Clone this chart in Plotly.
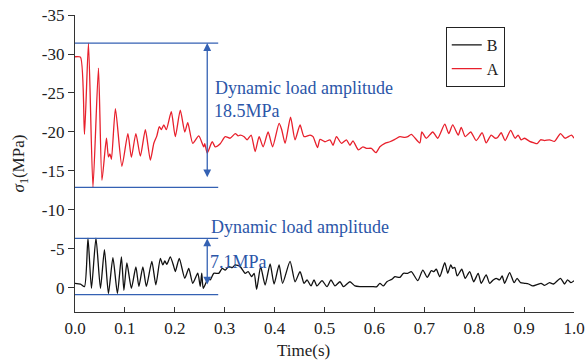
import plotly.graph_objects as go

# ---- data ----
time_A = [0.000, 0.011, 0.019, 0.027, 0.036, 0.047, 0.054, 0.063, 0.067, 0.070, 0.073, 0.081, 0.094,
          0.106, 0.113, 0.122, 0.131, 0.141, 0.151, 0.158, 0.164, 0.169, 0.173, 0.178, 0.183, 0.193,
          0.201, 0.211, 0.220, 0.226, 0.236, 0.248, 0.258, 0.260, 0.265, 0.275, 0.281, 0.291, 0.301,
          0.311, 0.321, 0.327, 0.331, 0.339, 0.345, 0.353, 0.361, 0.369, 0.377, 0.387, 0.396, 0.409,
          0.414, 0.421, 0.432, 0.441, 0.451, 0.459, 0.471, 0.477, 0.486, 0.491, 0.501, 0.511, 0.517,
          0.524, 0.534, 0.544, 0.551, 0.557, 0.568, 0.577, 0.584, 0.594, 0.603, 0.611, 0.621, 0.631,
          0.641, 0.651, 0.661, 0.667, 0.674, 0.691, 0.695, 0.704, 0.717, 0.727, 0.741, 0.749, 0.757,
          0.768, 0.774, 0.782, 0.793, 0.804, 0.816, 0.824, 0.834, 0.842, 0.847, 0.854, 0.862, 0.873,
          0.882, 0.888, 0.894, 0.901, 0.911, 0.920, 0.926, 0.933, 0.941, 0.951, 0.961, 0.973, 0.982,
          0.995, 1.000]
sigma_A = [-29.65, -29.6, -19.7, -31.4, -12.9, -28.2, -13.8, -19.2, -16.8, -17.2, -16.5, -23.0, -15.6,
           -19.8, -16.75, -19.8, -16.9, -20.3, -16.4, -18.55, -19.5, -20.7, -20.3, -20.9, -20.3, -22.6,
           -19.4, -22.8, -20.0, -21.2, -18.55, -19.5, -18.1, -18.5, -17.3, -18.75, -18.1, -18.5, -19.4,
           -19.2, -19.8, -19.5, -19.6, -19.4, -19.0, -19.6, -17.5, -19.4, -18.1, -20.0, -18.1, -21.1,
           -20.35, -18.55, -21.9, -19.0, -20.9, -19.4, -19.6, -19.4, -18.0, -19.05, -18.75, -19.0, -18.3,
           -19.4, -18.55, -19.0, -18.3, -18.85, -17.7, -18.1, -17.9, -17.9, -17.35, -18.1, -18.55, -18.75,
           -19.05, -19.4, -19.3, -19.4, -19.7, -18.6, -20.0, -19.2, -20.0, -19.2, -21.0, -19.8, -20.9,
           -19.6, -20.6, -19.4, -20.0, -18.9, -19.9, -18.6, -19.6, -19.2, -19.3, -19.9, -18.9, -20.2,
           -19.2, -19.6, -19.0, -19.2, -18.8, -18.6, -18.5, -19.0, -18.9, -19.0, -18.8, -19.8, -19.2,
           -19.6, -19.2]

time_B = [0.000, 0.011, 0.019, 0.026, 0.033, 0.042, 0.051, 0.059, 0.067, 0.076, 0.085, 0.093, 0.098,
          0.104, 0.113, 0.122, 0.128, 0.136, 0.143, 0.154, 0.162, 0.171, 0.176, 0.180, 0.184, 0.191,
          0.198, 0.201, 0.209, 0.220, 0.228, 0.236, 0.246, 0.251, 0.254, 0.257, 0.267, 0.271, 0.278,
          0.288, 0.295, 0.301, 0.308, 0.315, 0.321, 0.331, 0.341, 0.347, 0.354, 0.359, 0.364, 0.372,
          0.381, 0.391, 0.399, 0.409, 0.416, 0.431, 0.441, 0.451, 0.459, 0.465, 0.473, 0.479, 0.485,
          0.495, 0.505, 0.513, 0.521, 0.531, 0.538, 0.551, 0.561, 0.571, 0.585, 0.595, 0.605, 0.611,
          0.618, 0.625, 0.635, 0.641, 0.651, 0.658, 0.667, 0.674, 0.687, 0.697, 0.706, 0.714, 0.719,
          0.724, 0.731, 0.741, 0.747, 0.753, 0.757, 0.761, 0.766, 0.775, 0.782, 0.791, 0.799, 0.808,
          0.814, 0.824, 0.831, 0.838, 0.844, 0.851, 0.856, 0.861, 0.871, 0.880, 0.886, 0.893, 0.901,
          0.909, 0.917, 0.927, 0.934, 0.941, 0.951, 0.959, 0.973, 0.981, 0.987, 0.994, 1.000]
sigma_B = [-0.6, -0.5, -0.17, -6.4, 0.04, -6.4, 0.04, -4.9, 0.7, -3.9, 0.7, -4.0, 0.3,
           -3.2, 0.04, -2.7, -0.2, -2.7, -0.2, -3.4, -0.4, -3.8, -2.95, -3.46, -3.03, -4.0,
           -2.74, -2.1, -3.8, -1.25, -2.5, -0.6, -1.9, -0.2, -1.9, 0.04, -1.24, -1.03, -1.88,
           -1.88, -2.5, -2.3, -2.74, -2.6, -2.95, -2.74, -1.88, -2.1, -1.45, -1.88, 0.17, -2.74,
           -0.38, -3.08, -0.51, -2.95, -0.6, -3.4, -0.8, -2.1, -0.6, -1.03, -0.26, -1.03, -0.26,
           -0.94, -0.17, -1.03, -0.26, -0.8, -0.17, -0.8, -0.26, -0.17, -0.17, -0.17, -0.17, -0.6,
           -0.26, -0.8, -1.12, -1.45, -1.35, -1.88, -1.88, -2.1, -0.94, -2.3, -1.37, -2.22, -2.1,
           -2.4, -1.45, -3.25, -1.88, -2.95, -2.52, -2.65, -1.54, -2.4, -1.24, -2.1, -0.8, -1.88,
           -0.6, -1.67, -0.6, -1.03, -1.24, -1.03, -1.54, -0.6, -1.97, -0.68, -1.24, -0.68, -0.6,
           -0.51, -0.26, -0.47, -0.6, -0.34, -0.68, -0.51, -1.24, -0.51, -1.03, -0.68, -0.94]

amp_A = [-31.4, -12.9]     # bounds of dynamic load amplitude, curve A
amp_B = [-6.35, 0.85]      # bounds of dynamic load amplitude, curve B
amp_labels = ["18.5MPa", "7.1MPa"]
y_ticks = [-35, -30, -25, -20, -15, -10, -5, 0]
y_tick_text = ["-35", "-30", "-25", "-20", "-15", "-10", "-5", "0"]
x_ticks = [0.0, 0.1, 0.2, 0.3, 0.4, 0.5, 0.6, 0.7, 0.8, 0.9, 1.0]
x_tick_text = ["0.0", "0.1", "0.2", "0.3", "0.4", "0.5", "0.6", "0.7", "0.8", "0.9", "1.0"]

SERIF = "Liberation Serif"
BLUE = "#3461b3"
TXT_BLUE = "#2b56a8"
AX = "#333333"
TXT = "#222222"

fig = go.Figure()
fig.add_trace(go.Scatter(x=time_B, y=sigma_B, mode="lines", name="B",
                         line=dict(color="#111111", width=1.3, shape="spline", smoothing=0.6)))
fig.add_trace(go.Scatter(x=time_A, y=sigma_A, mode="lines", name="A",
                         line=dict(color="#e8202c", width=1.3, shape="spline", smoothing=0.6)))

line_end = 0.287
arrow_x = 0.265
for lo_hi in (amp_A, amp_B):
    for v in lo_hi:
        fig.add_shape(type="line", xref="x", yref="y", x0=0, x1=line_end, y0=v, y1=v,
                      line=dict(color=BLUE, width=1.3))
    fig.add_annotation(x=arrow_x, y=lo_hi[0], ax=arrow_x, ay=lo_hi[1], axref="x", ayref="y",
                       xref="x", yref="y", text=" ", showarrow=True, arrowhead=2, arrowsize=1.2,
                       arrowwidth=1.3, arrowcolor=BLUE, arrowside="end+start", startarrowhead=2,
                       startarrowsize=1.2)

ann_font = dict(family=SERIF, size=18, color=TXT_BLUE)
fig.add_annotation(x=0.2766, y=-25.64, xref="x", yref="y", text="Dynamic load amplitude",
                   showarrow=False, xanchor="left", yanchor="middle", font=ann_font)
fig.add_annotation(x=0.2745, y=-22.69, xref="x", yref="y", text=amp_labels[0],
                   showarrow=False, xanchor="left", yanchor="middle", font=ann_font)
fig.add_annotation(x=0.2685, y=-7.82, xref="x", yref="y", text="Dynamic load amplitude",
                   showarrow=False, xanchor="left", yanchor="middle", font=ann_font)
fig.add_annotation(x=0.2665, y=-3.33, xref="x", yref="y", text=amp_labels[1],
                   showarrow=False, xanchor="left", yanchor="middle", font=ann_font)

fig.add_annotation(x=0.457, y=-0.128, xref="paper", yref="paper", text="Time(s)",
                   showarrow=False, xanchor="center", yanchor="middle",
                   font=dict(family=SERIF, size=17, color=TXT))

fig.update_layout(
    width=585, height=363,
    margin=dict(l=75, r=11, t=15, b=51, autoexpand=False),
    paper_bgcolor="white", plot_bgcolor="white",
    showlegend=True,
    legend=dict(x=0.743, y=0.96, xanchor="left", yanchor="top",
                bgcolor="white", bordercolor=TXT, borderwidth=1,
                font=dict(family=SERIF, size=16, color=TXT),
                tracegroupgap=0, itemwidth=30),
)
fig.update_xaxes(range=[0, 1.0], tickvals=x_ticks, ticktext=x_tick_text,
                 showgrid=False, zeroline=False, showline=True, linecolor=AX, linewidth=1.3,
                 ticks="inside", ticklen=5, tickwidth=1.2, tickcolor=AX, automargin=False,
                 tickfont=dict(family=SERIF, size=17, color=TXT))
fig.update_yaxes(range=[3.08, -35], tickvals=y_ticks, ticktext=y_tick_text,
                 showgrid=False, zeroline=False, showline=True, linecolor=AX, linewidth=1.3,
                 ticks="outside", ticklen=6, tickwidth=1.2, tickcolor=AX, automargin=False,
                 tickfont=dict(family=SERIF, size=17, color=TXT),
                 title=dict(text="<i>σ</i><sub>1</sub>(MPa)", standoff=12,
                            font=dict(family=SERIF, size=17, color=TXT)))

fig.write_html("out.html")
